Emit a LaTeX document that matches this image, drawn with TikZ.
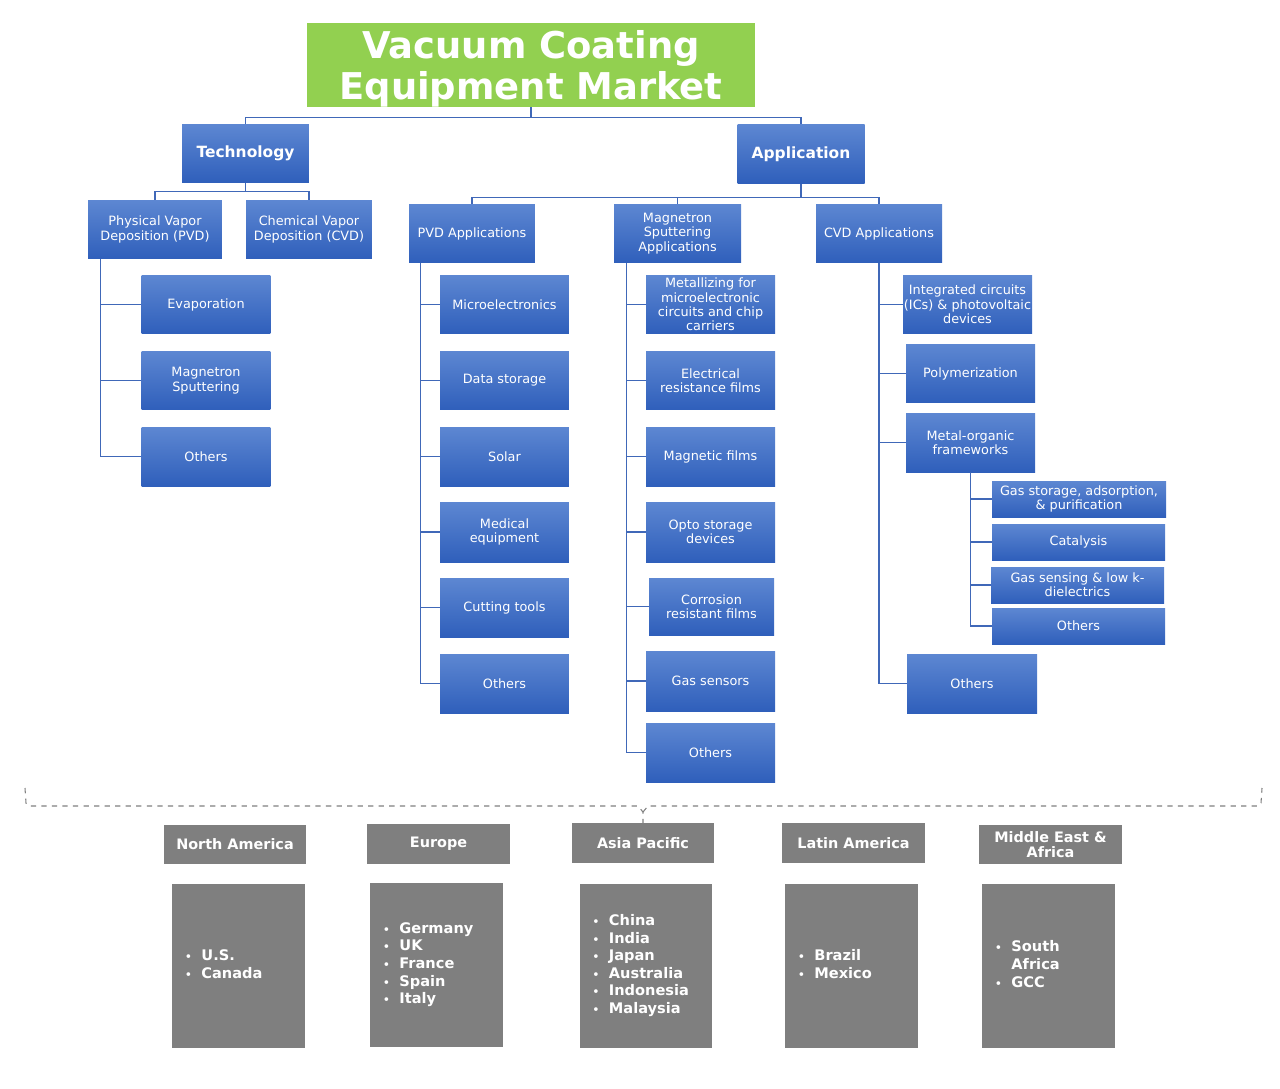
\documentclass[tikz,border=0pt]{standalone}
\usepackage{fontspec}
\setmainfont{DejaVu Sans}
\usepackage{tikz}
\usetikzlibrary{positioning,calc}

\definecolor{titlegreen}{HTML}{92D050}
\definecolor{boxtop}{HTML}{5D87D2}
\definecolor{boxbot}{HTML}{2F5FBB}
\definecolor{linkblue}{HTML}{4068B8}
\definecolor{regiongray}{HTML}{7F7F7F}

\newcommand{\bu}{{\fontsize{6}{6}\selectfont\textbullet}}
\newcommand{\reglist}[1]{\begin{tabular}{@{}l@{\hspace{5.5pt}}l@{}}#1\end{tabular}}

\begin{document}
\begin{tikzpicture}[
  x=0.02cm, y=-0.02cm,
  every node/.style={align=center, text=white},
  title/.style={rectangle, fill=titlegreen, minimum width=8.96cm, minimum height=1.68cm, inner sep=0pt, font=\fontsize{21}{23.5}\selectfont\bfseries},
  head/.style={rectangle, top color=boxtop, bottom color=boxbot, minimum width=2.54cm, minimum height=1.17cm, inner sep=1pt, font=\fontsize{8.8}{10}\selectfont\bfseries},
  box/.style={rectangle, top color=boxtop, bottom color=boxbot, minimum width=2.58cm, minimum height=1.18cm, inner sep=0.5pt, font=\fontsize{7.3}{8.2}\selectfont},
  subbox/.style={box, minimum width=3.46cm, minimum height=0.72cm},
  region/.style={rectangle, fill=regiongray, minimum width=2.86cm, minimum height=0.79cm, inner sep=1pt, font=\fontsize{8.2}{9}\selectfont\bfseries},
  rlist/.style={rectangle, fill=regiongray, text width=2.14cm, inner xsep=0.26cm, minimum height=3.28cm, align=left, font=\fontsize{8.3}{10}\selectfont\bfseries},
  link/.style={draw=linkblue, line width=0.6pt},
  bracket/.style={draw=regiongray, dashed, line width=0.6pt}
]
\useasboundingbox (0,0) rectangle (1280,1088);

% Title and the two main branches
\node[title] (vcem) at (531,65) {\rule{0pt}{20pt}Vacuum Coating\\Equipment Market};
\node[head] (tech) at (245.5,153.5) {Technology};
\node[head] (appl) at (801,154) {Application};

% Technology
\node[box, minimum width=2.68cm] (pvd) at (155,229.5) {Physical Vapor\\Deposition (PVD)};
\node[box, minimum width=2.52cm] (cvd) at (309,229.5) {Chemical Vapor\\Deposition (CVD)};
\node[box] (evap) at (206,304.5) {Evaporation};
\node[box] (msput) at (206,380.5) {Magnetron\\Sputtering};
\node[box] (tothers) at (206,456.5) {Others};

% Application
\node[box, minimum width=2.52cm] (pvdapp) at (472,233.5) {PVD Applications};
\node[box, minimum width=2.54cm] (msapp) at (677.5,233.5) {Magnetron\\Sputtering\\Applications};
\node[box, minimum width=2.52cm] (cvdapp) at (879,233.5) {CVD Applications};

% PVD applications
\node[box] (micro) at (504.5,304.5) {Microelectronics};
\node[box] (datast) at (504.5,380.5) {Data storage};
\node[box] (solar) at (504.5,456.5) {Solar};
\node[box, minimum height=1.2cm] (medeq) at (504.5,532) {Medical\\equipment};
\node[box] (cuttool) at (504.5,607.5) {Cutting tools};
\node[box] (pothers) at (504.5,683.5) {Others};

% Magnetron sputtering applications
\node[box, inner sep=0pt] (metal) at (710.5,304.5) {Metallizing for\\microelectronic\\circuits and chip\\carriers};
\node[box] (elres) at (710.5,380.5) {Electrical\\resistance films};
\node[box] (magfilm) at (710.5,456.5) {Magnetic films};
\node[box, minimum height=1.2cm] (opto) at (710.5,532) {Opto storage\\devices};
\node[box, minimum width=2.5cm, minimum height=1.14cm] (corros) at (711.5,606.5) {Corrosion\\resistant films};
\node[box, minimum height=1.2cm] (gassens) at (710.5,681) {Gas sensors};
\node[box] (mothers) at (710.5,752.5) {Others};

% CVD applications
\node[box, inner sep=0pt] (icpv) at (967.5,304.5) {Integrated circuits\\(ICs) \& photovoltaic\\devices};
\node[box] (polym) at (970.5,373.5) {Polymerization};
\node[box] (mof) at (970.5,442.5) {Metal-organic\\frameworks};
\node[box, minimum width=2.6cm] (cothers) at (972,683.5) {Others};

% Metal-organic frameworks
\node[subbox, minimum width=3.48cm] (gasstor) at (1079,499) {Gas storage, adsorption,\\\& purification};
\node[subbox] (catal) at (1078.5,542) {Catalysis};
\node[subbox] (gasense) at (1077.5,585) {Gas sensing \& low k-\\dielectrics};
\node[subbox] (fothers) at (1078.5,626) {Others};

% Connectors
\draw[link] (vcem.south) -- ++(0,10) coordinate (b0);
\draw[link] (b0) -| (tech.north);
\draw[link] (b0) -| (appl.north);
\draw[link] (tech.south) -- ++(0,8) coordinate (b1);
\draw[link] (b1) -| (pvd.north);
\draw[link] (b1) -| (cvd.north);
\draw[link] (appl.south) -- ++(0,14) coordinate (b2);
\foreach \c in {pvdapp,msapp,cvdapp}
  \draw[link] (b2) -| (\c.north);

\foreach \c in {evap,msput,tothers}
  \draw[link] ([xshift=0.26cm]pvd.south west) |- (\c.west);
\foreach \c in {micro,datast,solar,medeq,cuttool,pothers}
  \draw[link] ([xshift=0.24cm]pvdapp.south west) |- (\c.west);
\foreach \c in {metal,elres,magfilm,opto,corros,gassens,mothers}
  \draw[link] ([xshift=0.26cm]msapp.south west) |- (\c.west);
\foreach \c in {icpv,polym,mof,cothers}
  \draw[link] (cvdapp.south) |- (\c.west);
\foreach \c in {gasstor,catal,gasense,fothers}
  \draw[link] (mof.south) |- (\c.west);

% Regions
\node[region] (na) at (235,844.5) {North America};
\node[region] (eu) at (438.5,844) {Europe};
\node[region] (ap) at (643,843) {Asia Pacific};
\node[region] (la) at (853.5,843) {Latin America};
\node[region, font=\fontsize{8.2}{8.6}\selectfont\bfseries] (mea) at (1050.5,844.5) {Middle East \&\\Africa};

\node[rlist] (nalist) at (238.5,966) {\reglist{\bu & U.S.\\ \bu & Canada}};
\node[rlist] (eulist) at (436.5,965) {\reglist{\bu & Germany\\ \bu & UK\\ \bu & France\\ \bu & Spain\\ \bu & Italy}};
\node[rlist] (aplist) at (646,966) {\reglist{\bu & China\\ \bu & India\\ \bu & Japan\\ \bu & Australia\\ \bu & Indonesia\\ \bu & Malaysia}};
\node[rlist] (lalist) at (851.5,966) {\reglist{\bu & Brazil\\ \bu & Mexico}};
\node[rlist] (mealist) at (1048.5,966) {\reglist{\bu & South\\ & Africa\\ \bu & GCC}};

% Dashed bracket over the regions
\draw[bracket] (25,788) -- (26,803) -- (29,806) -- (638,806) -- (643,812) -- (ap.north);
\draw[bracket] (643,812) -- (648,806) -- (1258,806) -- (1261,803) -- (1262,788);

\end{tikzpicture}
\end{document}
